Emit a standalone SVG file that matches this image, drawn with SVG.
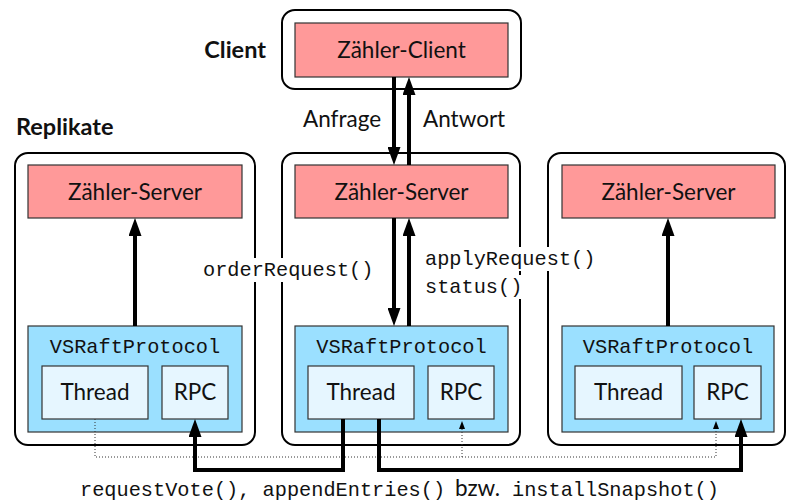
<svg xmlns="http://www.w3.org/2000/svg" width="787" height="504" viewBox="0 0 787 504">
<defs>
<style>
.outer{fill:#fff;stroke:#000;stroke-width:2}
.pink{fill:#ff9999;stroke:#333;stroke-width:1.2}
.blue{fill:#9be0ff;stroke:#333;stroke-width:1.2}
.light{fill:#e6f6ff;stroke:#333;stroke-width:1.2}
.sans{font-family:Lato,"Liberation Sans",sans-serif;font-size:22.5px;fill:#111}
.bold{font-family:Lato,"Liberation Sans",sans-serif;font-size:23.5px;font-weight:bold;fill:#111}
.mono{font-family:"Liberation Mono",monospace;font-size:20.3px;fill:#111}
.mid{text-anchor:middle}
.thick{fill:none;stroke:#000;stroke-width:4;stroke-linejoin:miter}
.dot{fill:none;stroke:#333;stroke-width:1;stroke-dasharray:1 2}
.bg{fill:#fff}
</style>
<marker id="ah" markerUnits="userSpaceOnUse" markerWidth="18" markerHeight="13" refX="8" refY="6.5" orient="auto"><path d="M0,0 L18,6.5 L0,13 z" fill="#000"/></marker>
<marker id="sh" markerUnits="userSpaceOnUse" markerWidth="8" markerHeight="6" refX="2" refY="3" orient="auto"><path d="M0,0 L8,3 L0,6 z" fill="#000"/></marker>
</defs>

<g id="client">
<rect class="outer" x="282" y="10" width="239" height="79" rx="13"/>
<rect class="pink" x="295" y="23" width="213" height="54"/>
<text class="sans mid" x="401.5" y="58">Zähler-Client</text>
</g>
<text class="bold" x="266" y="58" text-anchor="end">Client</text>
<text class="bold" x="16" y="135">Replikate</text>

<g id="replica1">
<rect class="outer" x="15" y="153" width="240" height="292" rx="13"/>
<rect class="pink" x="28" y="165" width="214" height="53"/>
<text class="sans mid" x="135" y="200">Zähler-Server</text>
<rect class="blue" x="28" y="326" width="214" height="106"/>
<text class="mono mid" x="135" y="353">VSRaftProtocol</text>
<rect class="light" x="42" y="366" width="106" height="53"/>
<text class="sans mid" x="95" y="400">Thread</text>
<rect class="light" x="162" y="366" width="66" height="53"/>
<text class="sans mid" x="195" y="400">RPC</text>
</g>

<g id="replica2">
<rect class="outer" x="282" y="153" width="238" height="292" rx="13"/>
<rect class="pink" x="295" y="165" width="213" height="53"/>
<text class="sans mid" x="401.5" y="200">Zähler-Server</text>
<rect class="blue" x="295" y="326" width="213" height="106"/>
<text class="mono mid" x="401.5" y="353">VSRaftProtocol</text>
<rect class="light" x="308" y="366" width="106" height="53"/>
<text class="sans mid" x="361" y="400">Thread</text>
<rect class="light" x="428" y="366" width="66" height="53"/>
<text class="sans mid" x="461" y="400">RPC</text>
</g>

<g id="replica3">
<rect class="outer" x="548" y="153" width="237" height="292" rx="13"/>
<rect class="pink" x="562" y="165" width="213" height="53"/>
<text class="sans mid" x="668.5" y="200">Zähler-Server</text>
<rect class="blue" x="562" y="326" width="212" height="106"/>
<text class="mono mid" x="668" y="353">VSRaftProtocol</text>
<rect class="light" x="575" y="366" width="107" height="53"/>
<text class="sans mid" x="628.5" y="400">Thread</text>
<rect class="light" x="694" y="366" width="67" height="53"/>
<text class="sans mid" x="727.5" y="400">RPC</text>
</g>

<g id="connectors">
<line class="thick" x1="394" y1="77" x2="394" y2="155" marker-end="url(#ah)"/>
<line class="thick" x1="409" y1="165" x2="409" y2="87" marker-end="url(#ah)"/>
<line class="thick" x1="394" y1="218" x2="394" y2="316" marker-end="url(#ah)"/>
<line class="thick" x1="409" y1="326" x2="409" y2="228" marker-end="url(#ah)"/>
<line class="thick" x1="135" y1="326" x2="135" y2="228" marker-end="url(#ah)"/>
<line class="thick" x1="668" y1="326" x2="668" y2="228" marker-end="url(#ah)"/>
<path class="dot" d="M95,419 V457 H716 V427" marker-end="url(#sh)"/>
<path class="dot" d="M462,457 V427" marker-end="url(#sh)"/>
<path class="thick" d="M343,419 V470 H195 V429" marker-end="url(#ah)"/>
<path class="thick" d="M379,419 V470 H741 V429" marker-end="url(#ah)"/>
</g>

<g id="labels">
<text class="sans" x="303" y="127">Anfrage</text>
<text class="sans" x="423" y="127">Antwort</text>
<rect class="bg" x="201" y="258" width="176" height="24"/>
<text class="mono" x="203" y="276">orderRequest()</text>
<rect class="bg" x="423" y="247" width="174" height="24"/>
<rect class="bg" x="423" y="275" width="101" height="24"/>
<text class="mono" x="425" y="265">applyRequest()</text>
<text class="mono" x="425" y="293">status()</text>
<text class="mono" x="80" y="496">requestVote(), appendEntries()<tspan x="455" style="font-family:Lato,'Liberation Sans',sans-serif;font-size:22.5px">bzw.</tspan><tspan x="512">installSnapshot()</tspan></text>
</g>
</svg>
